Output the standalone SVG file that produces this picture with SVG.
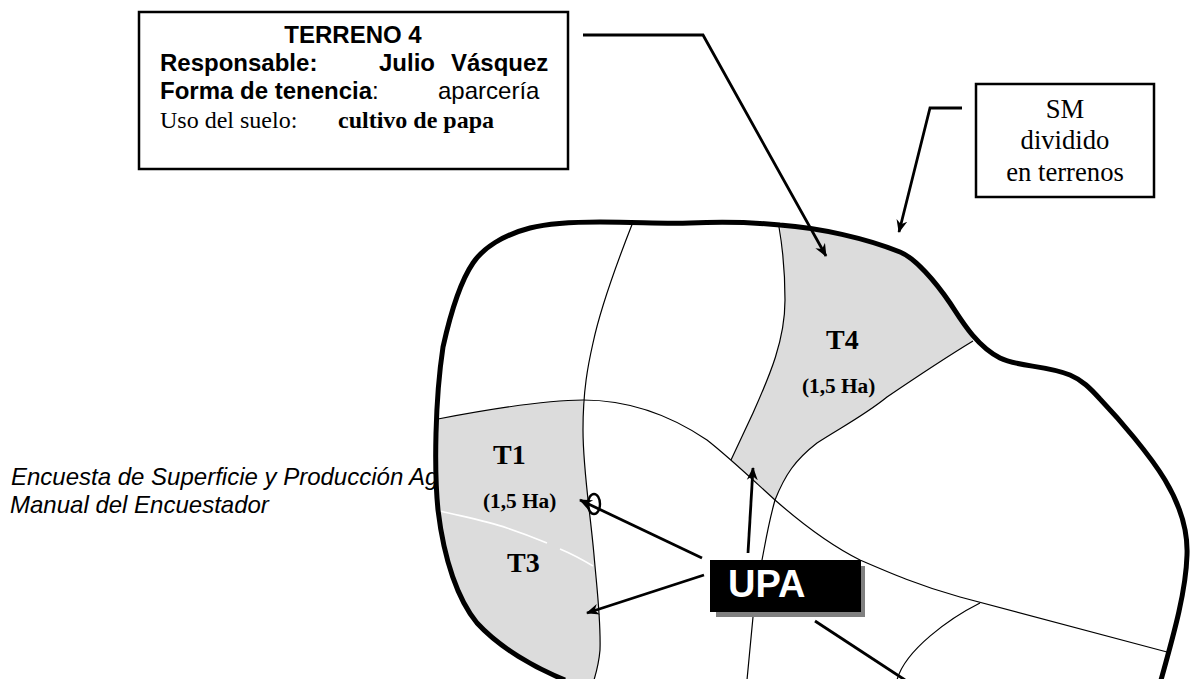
<svg xmlns="http://www.w3.org/2000/svg" width="1190" height="679" viewBox="0 0 1190 679">
<style>
.sans{font-family:"Liberation Sans",Arial,sans-serif}
.serif{font-family:"Liberation Serif","Times New Roman",serif}
.b{font-weight:bold}
.s24{font-size:24px}
.s26{font-size:26.67px}
.s21{font-size:21.3px}
.s28{font-size:28px}
.box{fill:#fff;stroke:#000;stroke-width:2.5}
.thin{fill:none;stroke:#000;stroke-width:1.2}
.gray{fill:#dcdcdc;stroke:none}
.arrow{fill:none;stroke:#000;stroke-width:2.8;marker-end:url(#ah)}
.line{fill:none;stroke:#000;stroke-width:2.8}
text{fill:#000}
</style>
<defs>
<marker id="ah" markerUnits="userSpaceOnUse" markerWidth="16" markerHeight="14" refX="12" refY="6" orient="auto" viewBox="0 0 16 12">
<path d="M0,0.5 L13,6 L0,11.5 L4,6 Z" fill="#000"/>
</marker>
</defs>

<g id="caption">
<text class="sans s24" font-style="italic" x="11" y="485">Encuesta de Superficie y Producción Ag</text>
<text class="sans s24" font-style="italic" x="10" y="513">Manual del Encuestador</text>
</g>

<g id="parcel">
<path fill="#fff" d="M565,680 C535,668 500,648 477,623 C458,600 444,560 438,510 C434,470 435,400 443,347 C449,320 458,285 473,263 C483,248 503,235 530,228 C550,223 575,222 600,222 C640,222 660,224 690,223 C715,222 750,222 780,225 C820,228 865,238 900,252 C915,258 935,281 950,303 C960,318 975,345 1000,358 C1018,367 1045,365 1070,375 C1082,380 1090,388 1100,399 C1120,420 1150,455 1165,480 C1180,505 1188,530 1187,555 C1186,590 1175,630 1161,680 Z"/>
<path id="T4-area" class="gray" d="M780,225 C820,228 865,238 900,252 C915,258 935,281 950,303 C957,315 965,328 973,341 C945,358 915,378 887,397 C865,415 840,428 817,443 C795,460 785,475 775,500 L731,460 L753,413 C770,375 785,340 785,300 C785,275 783,250 780,225 Z"/>
<path id="T1-T3-area" class="gray" d="M438,419 C480,411 540,400 583,400 L583,430 C583,470 590,510 594,555 C597,590 601,620 600,650 C599,662 597,670 594,680 L565,680 C535,668 500,648 477,623 C458,600 444,560 438,510 C436,480 436,450 438,419 Z"/>
<path fill="none" stroke="#fff" stroke-width="1.6" d="M440,511 C465,517 487,521 507,528 C525,534 535,538 547,543"/>
<path fill="none" stroke="#fff" stroke-width="1.6" d="M560,549 C572,554 583,560 593,566"/>
<path class="thin" d="M438,419 C480,411 540,400 583,400 C630,400 670,415 707,440 C730,458 755,482 775,500 C800,522 830,545 860,560 C890,573 920,586 960,597 L1167,652"/>
<path class="thin" d="M633,222 C620,255 600,310 593,343 C588,365 583,390 583,430 C583,470 590,510 594,555 C597,590 601,620 600,650 C599,662 597,670 594,680"/>
<path class="thin" d="M779,227 C783,250 785,275 785,300 C785,340 770,375 753,413 L731,460"/>
<path class="thin" d="M973,341 C945,358 915,378 887,397 C865,415 840,428 817,443 C795,460 785,475 775,500 C768,525 765,545 762,560 L753,617 L747,680"/>
<path class="thin" d="M980,603 C950,618 905,650 897,680"/>
<path fill="none" stroke="#000" stroke-width="5" d="M565,680 C535,668 500,648 477,623 C458,600 444,560 438,510 C434,470 435,400 443,347 C449,320 458,285 473,263 C483,248 503,235 530,228 C550,223 575,222 600,222 C640,222 660,224 690,223 C715,222 750,222 780,225 C820,228 865,238 900,252 C915,258 935,281 950,303 C960,318 975,345 1000,358 C1018,367 1045,365 1070,375 C1082,380 1090,388 1100,399 C1120,420 1150,455 1165,480 C1180,505 1188,530 1187,555 C1186,590 1175,630 1161,680"/>
</g>

<g id="labels">
<g id="T1"><text class="serif b s28" x="493" y="464">T1</text>
<text class="serif b s21" x="483" y="508">(1,5 Ha)</text></g>
<g id="T3"><text class="serif b s28" x="507" y="572">T3</text></g>
<g id="T4"><text class="serif b s28" x="826" y="349">T4</text>
<text class="serif b s21" x="802" y="393">(1,5 Ha)</text></g>
</g>

<g id="connectors">
<path class="arrow" d="M583,35 L703,35 L826,256"/>
<path class="arrow" d="M962,108 L930,108 L899,232"/>
<path class="arrow" d="M702,558 L580,500"/>
<path class="arrow" d="M704,575 L587,613"/>
<path class="arrow" d="M748,553 L753,468"/>
<path class="line" d="M815,621 L905,680"/>
<ellipse cx="594" cy="504" rx="6" ry="10" fill="none" stroke="#000" stroke-width="2.4"/>
</g>

<g id="terreno4">
<rect class="box" x="139" y="12" width="429" height="157"/>
<text class="sans b s24" text-anchor="middle" x="353" y="43">TERRENO 4</text>
<text class="sans b s24" x="160" y="71">Responsable:</text>
<text class="sans b s24" x="379" y="71">Julio</text>
<text class="sans b s24" x="451" y="71">Vásquez</text>
<text class="sans b s24" x="160" y="99">Forma de tenencia<tspan font-weight="normal">:</tspan></text>
<text class="sans s24" x="438" y="99">aparcería</text>
<text class="serif s24" x="160" y="128">Uso del suelo:</text>
<text class="serif b s24" x="338" y="128">cultivo de papa</text>
</g>

<g id="sm">
<rect class="box" x="976" y="84" width="178" height="113"/>
<text class="serif s26" text-anchor="middle" x="1065" y="118">SM</text>
<text class="serif s26" text-anchor="middle" x="1065" y="149">dividido</text>
<text class="serif s26" text-anchor="middle" x="1065" y="181">en terrenos</text>
</g>

<g id="upa">
<rect x="716" y="566" width="149" height="51" fill="#808080"/>
<rect x="710" y="560" width="151" height="52" fill="#000"/>
<text class="sans b" style="fill:#fff" font-size="38" x="728" y="597">UPA</text>
</g>
</svg>
